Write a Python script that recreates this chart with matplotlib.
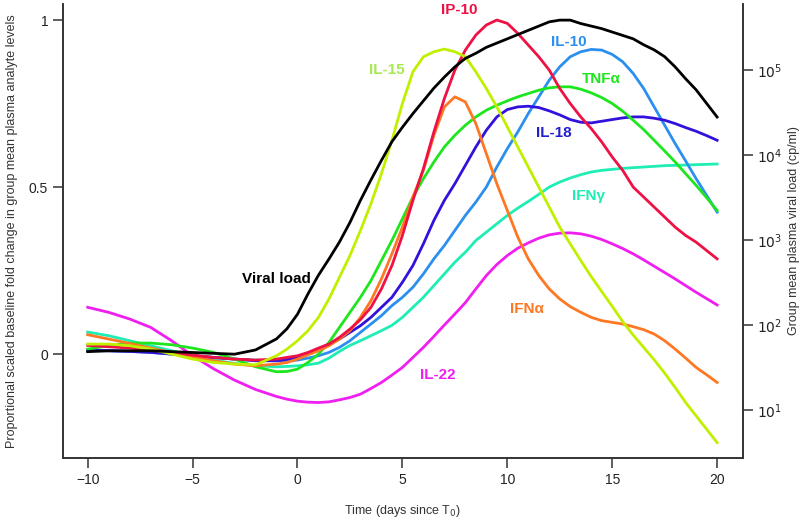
import matplotlib
matplotlib.use("Agg")
import matplotlib.pyplot as plt
import numpy as np

plt.rcParams['font.family'] = ['Liberation Sans', 'DejaVu Sans']

# days since T0: whole days up to -2, then half days
days = np.concatenate([np.arange(-10, -1), np.arange(-1, 20.5, 0.5)])

# proportional scaled baseline fold change (left axis)
il15 = [0.03, 0.03, 0.025, 0.015, 0.0, -0.015, -0.025, -0.03, -0.032, -0.005,
        0.015, 0.04, 0.07, 0.11, 0.165, 0.23, 0.295, 0.37, 0.45, 0.54, 0.64,
        0.75, 0.845, 0.89, 0.905, 0.913, 0.905, 0.89, 0.845, 0.795, 0.74,
        0.68, 0.62, 0.56, 0.50, 0.44, 0.38, 0.33, 0.28, 0.232, 0.187,
        0.143, 0.097, 0.057, 0.02, -0.017, -0.057, -0.10, -0.145, -0.185, -0.225, -0.265]
ip10 = [0.026, 0.022, 0.018, 0.012, 0.005, -0.003, -0.01, -0.015, -0.018, -0.015,
        -0.01, -0.005, 0.005, 0.018, 0.03, 0.05, 0.075, 0.103, 0.14, 0.195, 0.265,
        0.355, 0.46, 0.555, 0.665, 0.765, 0.85, 0.91, 0.955, 0.985, 1.0,
        0.99, 0.96, 0.925, 0.89, 0.85, 0.795, 0.75, 0.71, 0.675, 0.635,
        0.59, 0.55, 0.50, 0.47, 0.44, 0.41, 0.38, 0.355, 0.335, 0.31, 0.285]
ifna = [0.058, 0.045, 0.032, 0.018, 0.005, -0.008, -0.02, -0.03, -0.035, -0.03,
        -0.025, -0.015, -0.002, 0.01, 0.025, 0.045, 0.07, 0.11, 0.16, 0.225, 0.30,
        0.38, 0.47, 0.55, 0.655, 0.74, 0.77, 0.755, 0.69, 0.60, 0.51,
        0.43, 0.35, 0.285, 0.235, 0.195, 0.165, 0.142, 0.125, 0.11, 0.10,
        0.095, 0.09, 0.082, 0.073, 0.06, 0.04, 0.015, -0.012, -0.04, -0.062, -0.085]
tnfa = [0.015, 0.025, 0.033, 0.033, 0.028, 0.018, 0.005, -0.015, -0.038, -0.053,
        -0.052, -0.045, -0.025, 0.0, 0.035, 0.08, 0.125, 0.17, 0.22, 0.28, 0.34,
        0.405, 0.47, 0.525, 0.575, 0.62, 0.655, 0.685, 0.71, 0.73, 0.745,
        0.758, 0.77, 0.78, 0.79, 0.797, 0.80, 0.80, 0.793, 0.782, 0.768,
        0.75, 0.727, 0.70, 0.672, 0.64, 0.608, 0.575, 0.54, 0.505, 0.468, 0.43]
il18 = [0.012, 0.01, 0.008, 0.005, 0.0, -0.005, -0.01, -0.015, -0.02, -0.02,
        -0.016, -0.01, 0.0, 0.015, 0.03, 0.045, 0.065, 0.085, 0.11, 0.14, 0.17,
        0.215, 0.265, 0.33, 0.40, 0.46, 0.51, 0.565, 0.62, 0.67, 0.71,
        0.732, 0.74, 0.742, 0.738, 0.728, 0.716, 0.702, 0.694, 0.692, 0.697,
        0.702, 0.707, 0.71, 0.71, 0.706, 0.70, 0.69, 0.678, 0.667, 0.654, 0.64]
il10 = [0.01, 0.01, 0.008, 0.005, 0.0, -0.005, -0.01, -0.015, -0.018, -0.02,
        -0.02, -0.018, -0.012, -0.005, 0.005, 0.02, 0.04, 0.065, 0.09, 0.115, 0.145,
        0.17, 0.20, 0.24, 0.285, 0.325, 0.37, 0.415, 0.455, 0.50, 0.56,
        0.615, 0.665, 0.72, 0.77, 0.82, 0.86, 0.89, 0.905, 0.912, 0.91,
        0.897, 0.875, 0.84, 0.795, 0.74, 0.685, 0.63, 0.578, 0.525, 0.475, 0.425]
ifng = [0.066, 0.055, 0.04, 0.025, 0.01, -0.005, -0.018, -0.028, -0.035, -0.038,
        -0.037, -0.035, -0.032, -0.027, -0.012, 0.008, 0.026, 0.04, 0.055, 0.07, 0.086,
        0.11, 0.14, 0.17, 0.205, 0.24, 0.275, 0.305, 0.34, 0.365, 0.39,
        0.415, 0.437, 0.457, 0.478, 0.50, 0.515, 0.527, 0.537, 0.545, 0.55,
        0.553, 0.556, 0.558, 0.56, 0.562, 0.564, 0.565, 0.566, 0.567, 0.568, 0.569]
il22 = [0.14, 0.125, 0.105, 0.08, 0.04, -0.005, -0.044, -0.078, -0.106, -0.127,
        -0.135, -0.141, -0.144, -0.145, -0.143, -0.137, -0.13, -0.12, -0.103, -0.085, -0.063,
        -0.04, -0.01, 0.02, 0.053, 0.087, 0.12, 0.154, 0.195, 0.235, 0.268,
        0.295, 0.317, 0.333, 0.347, 0.357, 0.362, 0.363, 0.36, 0.353, 0.343,
        0.33, 0.316, 0.30, 0.282, 0.263, 0.244, 0.225, 0.205, 0.185, 0.166, 0.147]

# group mean plasma viral load, log10 cp/ml (right axis)
viral_log = [1.69, 1.70, 1.70, 1.70, 1.69, 1.68, 1.67, 1.66, 1.71, 1.84,
             1.96, 2.13, 2.37, 2.59, 2.78, 2.98, 3.21, 3.47, 3.71, 3.94, 4.16,
             4.33, 4.49, 4.64, 4.79, 4.92, 5.04, 5.14, 5.20, 5.27, 5.32,
             5.37, 5.42, 5.47, 5.52, 5.57, 5.59, 5.59, 5.55, 5.52, 5.49,
             5.45, 5.41, 5.37, 5.30, 5.24, 5.16, 5.04, 4.90, 4.77, 4.61, 4.45]

fig = plt.figure(figsize=(8, 5.24), dpi=100)
ax = fig.add_axes([0.0784, 0.126, 0.85, 0.8664])
ax2 = ax.twinx()

lw = 2
ax.plot(days, ifng, color='#1EEEB4', lw=lw)
ax.plot(days, il22, color='#F01EF0', lw=lw)
ax.plot(days, il10, color='#2B8FEF', lw=lw)
ax.plot(days, il18, color='#3311DD', lw=lw)
ax.plot(days, tnfa, color='#1EE61E', lw=lw)
ax.plot(days, ifna, color='#FF7722', lw=lw)
ax.plot(days, ip10, color='#EE1144', lw=lw)
ax.plot(days, il15, color='#C0F000', lw=lw)
ax2.plot(days, 10 ** np.array(viral_log), color='black', lw=lw)

ax.set_xlim(-11.19, 21.22)
ax.set_ylim(-0.311, 1.048)
ax2.set_yscale('log')
ax2.set_ylim(10 ** 0.439, 10 ** 5.78)

ax.set_xticks([-10, -5, 0, 5, 10, 15, 20])
ax.set_yticks([0, 0.5, 1])
ax.set_yticklabels(['0', '0.5', '1'])
ax2.set_yticks([1e1, 1e2, 1e3, 1e4, 1e5])
ax2.set_yticklabels(['$10^1$', '$10^2$', '$10^3$', '$10^4$', '$10^5$'])
ax2.minorticks_off()

for a in (ax, ax2):
    a.spines['top'].set_visible(False)
    for s in ('left', 'right', 'bottom'):
        a.spines[s].set_color('#333333')
        a.spines[s].set_linewidth(1.2)
    a.tick_params(direction='out', length=7, width=1.1, colors='#333333',
                  labelsize=10, labelcolor='#222222')

ax.set_xlabel('Time (days since T$_0$)', fontsize=9, color='#333333', labelpad=12)
ax.set_ylabel('Proportional scaled baseline fold change in group mean plasma analyte levels',
              fontsize=9, color='#333333', labelpad=8)
ax2.set_ylabel('Group mean plasma viral load (cp/ml)', fontsize=9, color='#333333', labelpad=4)

# curve labels
labels = [
    ('IP-10', 7.71, 1.03, '#EE1144'),
    ('IL-10', 12.95, 0.934, '#2B8FEF'),
    ('TNF\u03b1', 14.48, 0.823, '#1EE61E'),
    ('IL-18', 12.24, 0.662, '#2222CC'),
    ('IFN\u03b3', 13.86, 0.473, '#1EEEB4'),
    ('IL-15', 4.24, 0.85, '#A8E850'),
    ('Viral load', -1.0, 0.225, 'black'),
    ('IFN\u03b1', 10.95, 0.135, '#FF7722'),
    ('IL-22', 6.67, -0.063, '#F01EF0'),
]
for text, x, y, c in labels:
    ax.text(x, y, text, color=c, fontsize=11, fontweight='bold', ha='center', va='center')

fig.savefig('out.png', dpi=100)
